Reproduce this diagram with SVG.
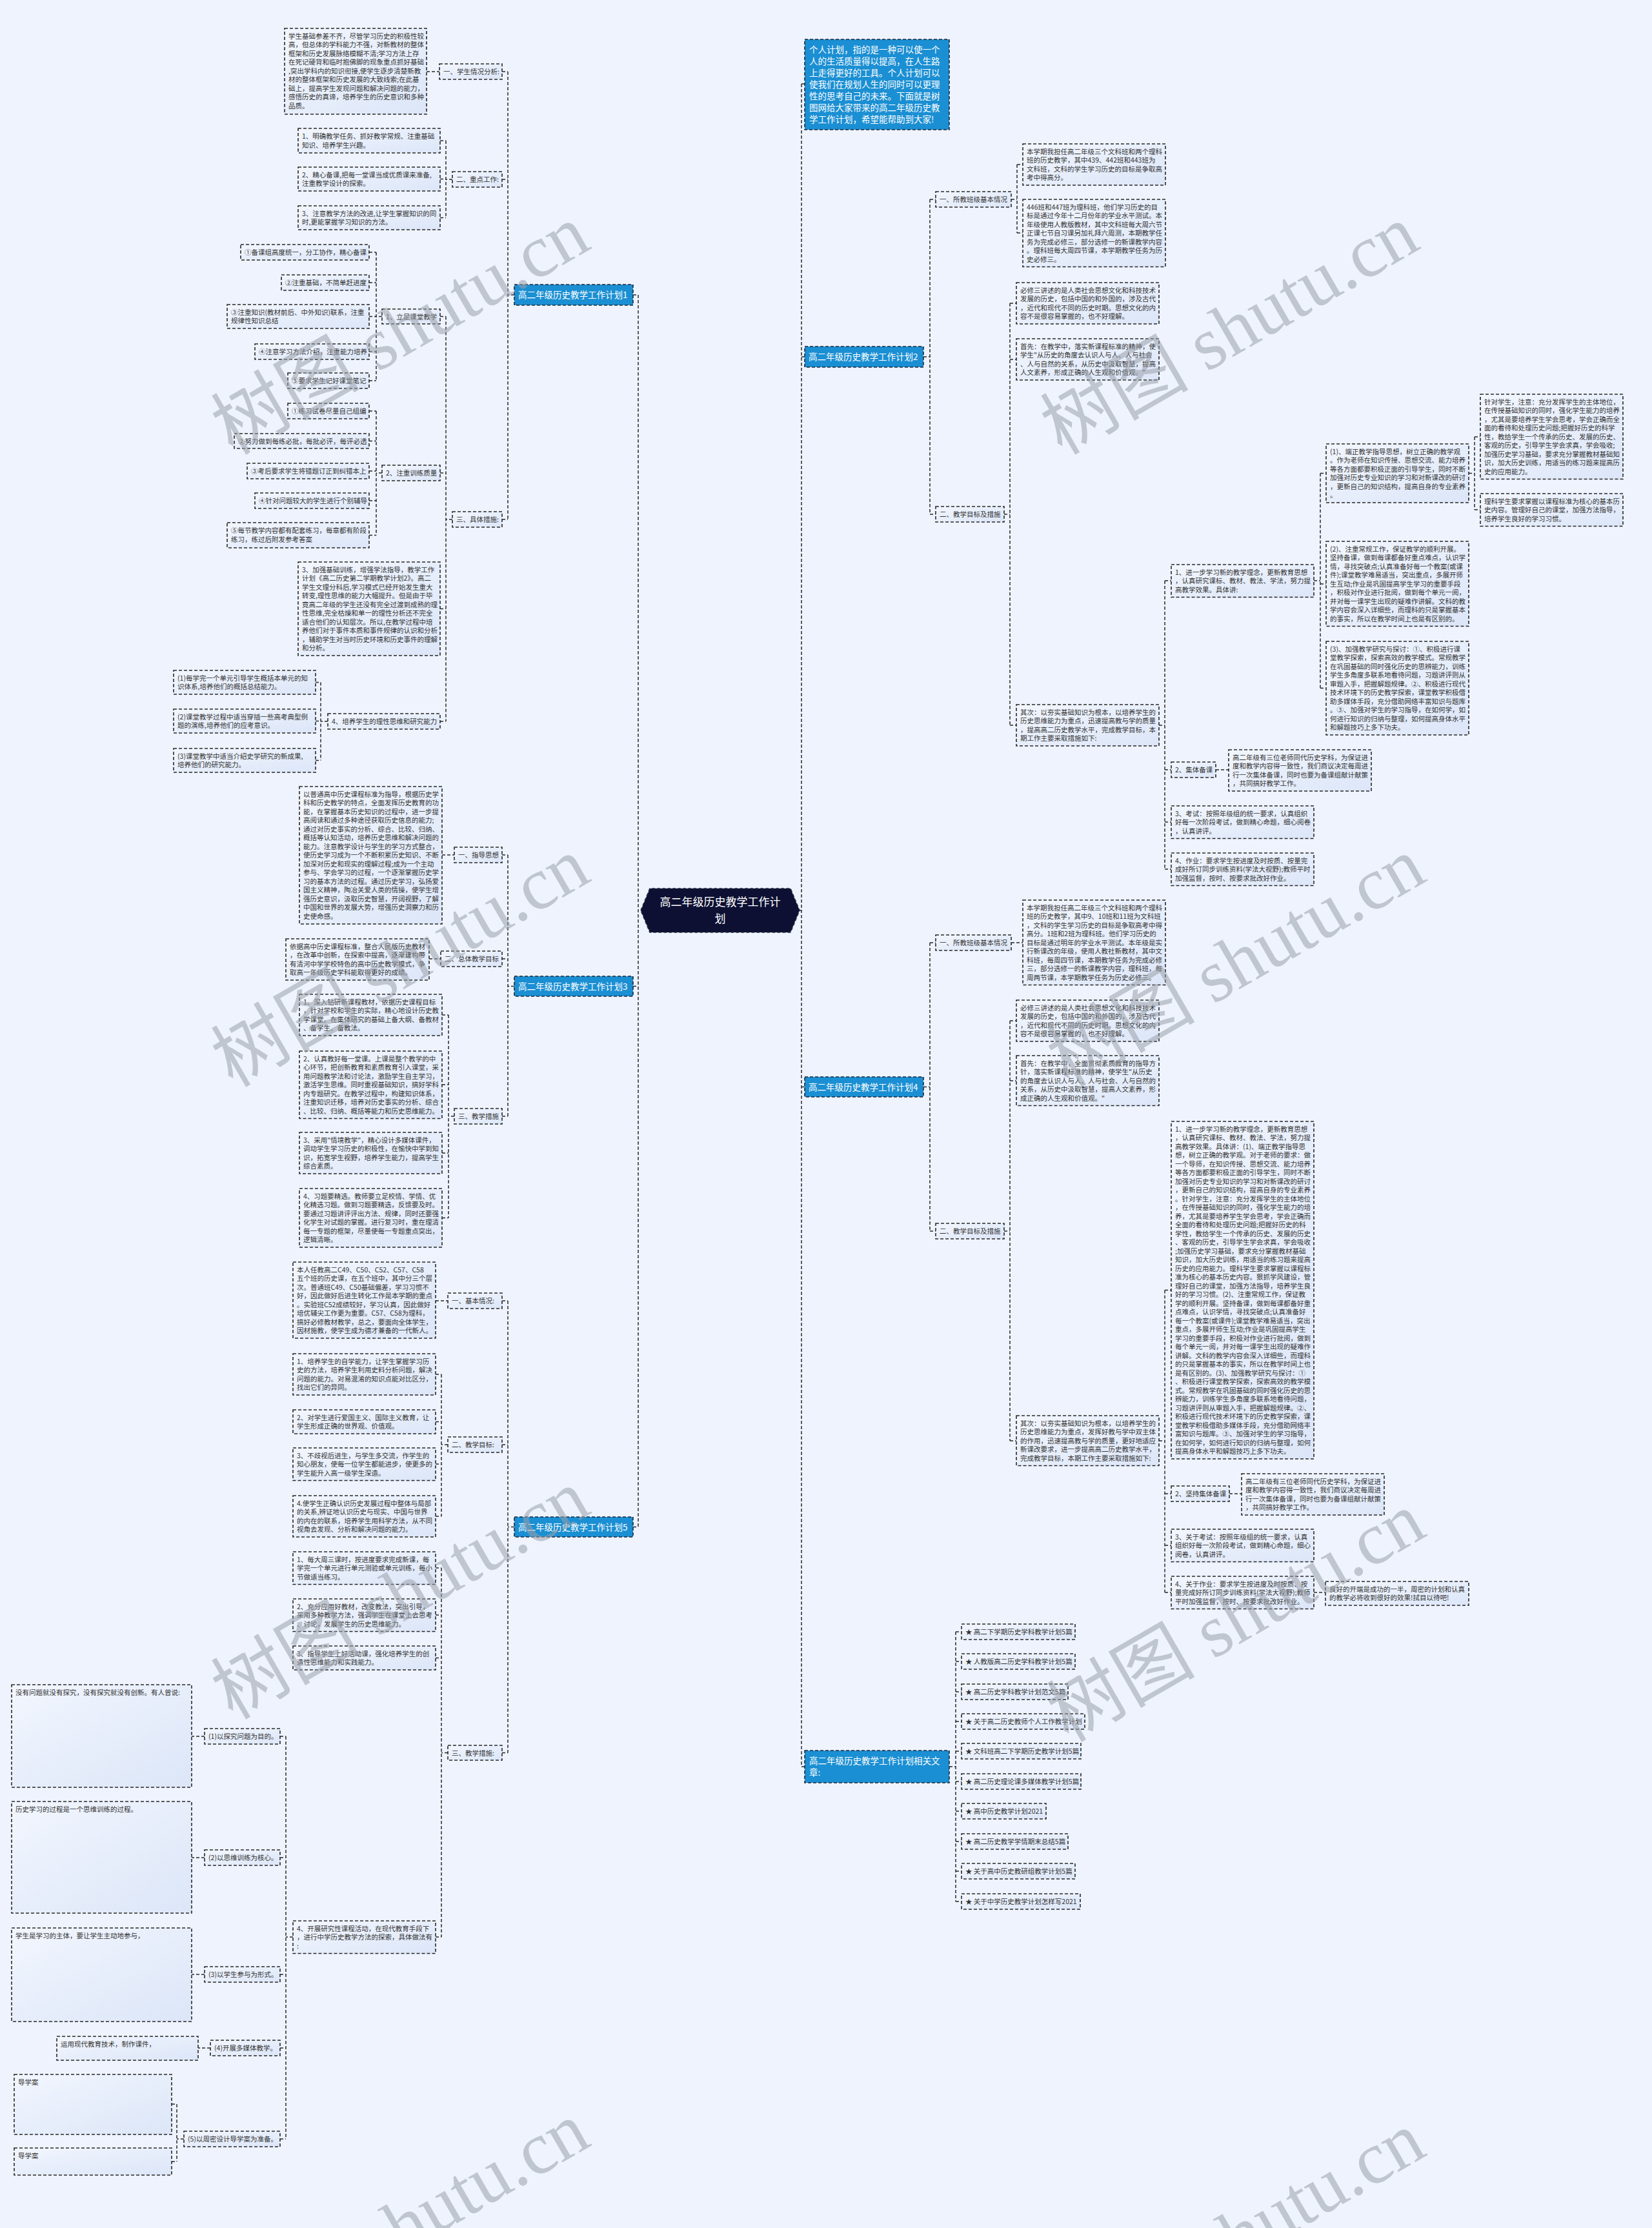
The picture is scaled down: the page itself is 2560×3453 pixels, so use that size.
<svg xmlns="http://www.w3.org/2000/svg" width="2560" height="3453" viewBox="0 0 2560 3453">
<defs>
<linearGradient id="g" x1="0" y1="0" x2="1" y2="1"><stop offset="0" stop-color="#F2F6FE"/><stop offset="1" stop-color="#DCE6F8"/></linearGradient>
<style>
.n{fill:url(#g);stroke:#2a2a2a;stroke-width:1.6;stroke-dasharray:5 3}
.b{fill:#1B8FD3;stroke:#1f2a3a;stroke-width:1.6;stroke-dasharray:5 3}
.t{font-family:"Noto Sans CJK SC","Noto Sans",sans-serif;font-size:10.5px;fill:#333}
.w{font-family:"Noto Sans CJK SC","Noto Sans",sans-serif;font-size:13.5px;fill:#fff}
.c{fill:none;stroke:#2a2a2a;stroke-width:1.5;stroke-dasharray:5 3}
.wm{font-family:"Liberation Serif","Noto Sans CJK SC",serif;font-size:115px;fill:#9aa0aa;fill-opacity:0.55}
</style>
</defs>
<rect x="0" y="0" width="2560" height="3453" fill="#EEF3FE"/>

<g id="connectors">
<path class="c" d="M989 457V2366.5M981 457H989M981 1528.5H989M981 2366.5H989"/>
<path class="c" d="M797 457H787M787 111V805M778 111H787M778 278H787M778 805H787M661 111H681"/>
<path class="c" d="M701 278H691M691 218V337.5M682 218H691M682 277.5H691M682 337.5H691"/>
<path class="c" d="M701 805H691M691 490.5V1118M682 490.5H691M682 733H691M682 943.5H691M682 1118H691"/>
<path class="c" d="M592 490.5H583M583 391V590M572 391H583M572 438H583M572 490.5H583M572 545H583M572 590H583"/>
<path class="c" d="M592 733H583M583 637V829.5M572 637H583M572 683.5H583M572 730H583M572 776H583M572 829.5H583"/>
<path class="c" d="M508 1118H497M497 1057.5V1178.5M489 1057.5H497M489 1117.5H497M489 1178.5H497"/>
<path class="c" d="M797 1528.5H787M787 1325V1730M778 1325H787M778 1486H787M778 1730H787M685 1325H704M665 1486H683"/>
<path class="c" d="M704 1730H695M695 1573V1887.5M685 1573H695M685 1681H695M685 1787H695M685 1887.5H695"/>
<path class="c" d="M797 2366.5H787M787 2016V2716.5M778 2016H787M778 2239H787M778 2716.5H787M675 2016H694"/>
<path class="c" d="M694 2239H684M684 2130V2350M675 2130H684M675 2203.5H684M675 2269H684M675 2350H684"/>
<path class="c" d="M694 2716.5H684M684 2430V3002M675 2430H684M675 2503H684M675 2569.5H684M675 3002H684"/>
<path class="c" d="M454 3002H443M443 2691V3315M434 2691H443M434 2879H443M434 3060H443M434 3174H443M434 3315H443"/>
<path class="c" d="M317 2691H297M317 2879H297M317 3060H297M326 3174H307M285 3315H274M274 3261V3350M266 3261H274M266 3350H274"/>
<path class="c" d="M1242 130V2738M1242 130H1247M1242 553H1247M1242 1684.5H1247M1242 2738H1247M1239 1411H1242"/>
<path class="c" d="M1431 553H1441M1441 309V797M1441 309H1450M1441 797H1450M1567 309H1576M1576 255V361M1576 255H1585M1576 361H1585"/>
<path class="c" d="M1556 797H1565M1565 470V1124M1565 470H1575M1565 557H1575M1565 1124H1575"/>
<path class="c" d="M1796 1124H1805M1805 900V1347M1805 900H1815M1805 1193H1815M1805 1274H1815M1805 1347H1815M1884 1193H1904"/>
<path class="c" d="M2036 900H2046M2046 733.5V1066.5M2046 733.5H2055M2046 905H2055M2046 1066.5H2055M2276 733.5H2285M2285 677V790M2285 677H2294M2285 790H2294"/>
<path class="c" d="M1431 1684.5H1441M1441 1461V1908M1441 1461H1450M1441 1908H1450M1567 1461H1585"/>
<path class="c" d="M1556 1908H1565M1565 1582V2233M1565 1582H1575M1565 1675H1575M1565 2233H1575"/>
<path class="c" d="M1796 2233H1805M1805 1999.5V2468M1805 1999.5H1815M1805 2315H1815M1805 2395H1815M1805 2468H1815M1905 2315H1924M2036 2468H2054"/>
<path class="c" d="M1471 2738H1481M1481 2529V2947M1481 2529H1490M1481 2575H1490M1481 2622H1490M1481 2668H1490M1481 2714H1490M1481 2761H1490M1481 2807H1490M1481 2854H1490M1481 2900H1490M1481 2947H1490"/>
</g>

<g id="center">
<polygon points="993,1411 1007,1377 1225,1377 1239,1411 1225,1445 1007,1445" fill="#0D1033" stroke="#1f2a3a" stroke-width="1.6" stroke-dasharray="5 3"/>
<text x="1116" y="1404" text-anchor="middle" style="font-family:'Noto Sans CJK SC',sans-serif;font-size:17px;fill:#fff">高二年级历史教学工作计</text>
<text x="1116" y="1430" text-anchor="middle" style="font-family:'Noto Sans CJK SC',sans-serif;font-size:17px;fill:#fff">划</text>
</g>

<!-- PLAN 1 -->
<g id="plan1"><rect class="b" x="797" y="441" width="184" height="32"/><text class="w" x="803" y="462">高二年级历史教学工作计划1</text></g>
<g id="p1a"><rect class="n" x="681" y="99" width="97" height="24"/><text class="t" x="687" y="115">一、学生情况分析:</text></g>
<g id="p1a1"><rect class="n" x="441" y="44" width="220" height="133"/><text class="t" y="59.5"><tspan x="447">学生基础参差不齐，尽管学习历史的积极性较</tspan><tspan x="447" dy="13.5">高，但总体的学科能力不强，对新教材的整体</tspan><tspan x="447" dy="13.5">框架和历史发展脉络模糊不清;学习方法上存</tspan><tspan x="447" dy="13.5">在死记硬背和临时抱佛脚的现象重点抓好基础</tspan><tspan x="447" dy="13.5">,突出学科内的知识衔接,使学生逐步清楚新教</tspan><tspan x="447" dy="13.5">材的整体框架和历史发展的大致线索;在此基</tspan><tspan x="447" dy="13.5">础上，提高学生发现问题和解决问题的能力，</tspan><tspan x="447" dy="13.5">感悟历史的真谛，培养学生的历史意识和多种</tspan><tspan x="447" dy="13.5">品质。</tspan></text></g>
<g id="p1b"><rect class="n" x="701" y="266" width="77" height="24"/><text class="t" x="707" y="282">二、重点工作:</text></g>
<g id="p1b1"><rect class="n" x="462" y="199" width="220" height="38"/><text class="t" y="215"><tspan x="468">1、明确教学任务、抓好教学常规、注重基础</tspan><tspan x="468" dy="13.5">知识、培养学生兴趣。</tspan></text></g>
<g id="p1b2"><rect class="n" x="462" y="259" width="220" height="37"/><text class="t" y="274.5"><tspan x="468">2、精心备课,把每一堂课当成优质课来准备,</tspan><tspan x="468" dy="13.5">注重教学设计的探索。</tspan></text></g>
<g id="p1b3"><rect class="n" x="462" y="319" width="220" height="37"/><text class="t" y="334.5"><tspan x="468">3、注意教学方法的改进,让学生掌握知识的同</tspan><tspan x="468" dy="13.5">时,更能掌握学习知识的方法。</tspan></text></g>
<g id="p1c"><rect class="n" x="701" y="793" width="77" height="24"/><text class="t" x="707" y="809">三、具体措施:</text></g>
<g id="p1c1"><rect class="n" x="592" y="479" width="90" height="23"/><text class="t" x="598" y="494.5">1、立足课堂教学</text></g>
<g id="p1c1a"><rect class="n" x="373" y="379" width="199" height="24"/><text class="t" x="379" y="395">①备课组高度统一，分工协作，精心备课</text></g>
<g id="p1c1b"><rect class="n" x="436" y="426" width="136" height="24"/><text class="t" x="442" y="442">②注重基础，不简单赶进度</text></g>
<g id="p1c1c"><rect class="n" x="352" y="472" width="220" height="37"/><text class="t" y="487.5"><tspan x="358">③注重知识(教材前后、中外知识)联系，注重</tspan><tspan x="358" dy="13.5">规律性知识总结</tspan></text></g>
<g id="p1c1d"><rect class="n" x="395" y="533" width="177" height="24"/><text class="t" x="401" y="549">④注意学习方法介绍，注重能力培养</text></g>
<g id="p1c1e"><rect class="n" x="446" y="578" width="126" height="24"/><text class="t" x="452" y="594">⑤要求学生记好课堂笔记</text></g>
<g id="p1c2"><rect class="n" x="592" y="721" width="90" height="24"/><text class="t" x="598" y="737">2、注重训练质量</text></g>
<g id="p1c2a"><rect class="n" x="446" y="625" width="126" height="24"/><text class="t" x="452" y="641">①练习试卷尽量自己组编</text></g>
<g id="p1c2b"><rect class="n" x="363" y="672" width="209" height="23"/><text class="t" x="369" y="687.5">②努力做到每练必批，每批必评，每评必透</text></g>
<g id="p1c2c"><rect class="n" x="383" y="718" width="189" height="24"/><text class="t" x="389" y="734">③考后要求学生将错题订正到纠错本上</text></g>
<g id="p1c2d"><rect class="n" x="395" y="764" width="177" height="24"/><text class="t" x="401" y="780">④针对问题较大的学生进行个别辅导</text></g>
<g id="p1c2e"><rect class="n" x="352" y="810" width="220" height="39"/><text class="t" y="826"><tspan x="358">⑤每节教学内容都有配套练习，每章都有阶段</tspan><tspan x="358" dy="13.5">练习，练过后附发参考答案</tspan></text></g>
<g id="p1c3"><rect class="n" x="462" y="871" width="220" height="145"/><text class="t" y="886.5"><tspan x="468">3、加强基础训练，增强学法指导，教学工作</tspan><tspan x="468" dy="13.5">计划《高二历史第二学期教学计划2》。高二</tspan><tspan x="468" dy="13.5">学生文理分科后,学习模式已经开始发生重大</tspan><tspan x="468" dy="13.5">转变,理性思维的能力大幅提升。但是由于毕</tspan><tspan x="468" dy="13.5">竟高二年级的学生还没有完全过渡到成熟的理</tspan><tspan x="468" dy="13.5">性思维,完全枯燥和单一的理性分析还不完全</tspan><tspan x="468" dy="13.5">适合他们的认知层次。所以,在教学过程中培</tspan><tspan x="468" dy="13.5">养他们对于事件本质和事件规律的认识和分析</tspan><tspan x="468" dy="13.5">，辅助学生对当时历史环境和历史事件的理解</tspan><tspan x="468" dy="13.5">和分析。</tspan></text></g>
<g id="p1c4"><rect class="n" x="508" y="1106" width="174" height="24"/><text class="t" x="514" y="1122">4、培养学生的理性思维和研究能力</text></g>
<g id="p1c4a"><rect class="n" x="269" y="1039" width="220" height="37"/><text class="t" y="1054.5"><tspan x="275">(1)每学完一个单元引导学生概括本单元的知</tspan><tspan x="275" dy="13.5">识体系,培养他们的概括总结能力。</tspan></text></g>
<g id="p1c4b"><rect class="n" x="269" y="1099" width="220" height="37"/><text class="t" y="1114.5"><tspan x="275">(2)课堂教学过程中适当穿插一些高考典型例</tspan><tspan x="275" dy="13.5">题的演练,培养他们的应考意识。</tspan></text></g>
<g id="p1c4c"><rect class="n" x="269" y="1160" width="220" height="37"/><text class="t" y="1175.5"><tspan x="275">(3)课堂教学中适当介绍史学研究的新成果,</tspan><tspan x="275" dy="13.5">培养他们的研究能力。</tspan></text></g>

<!-- PLAN 3 -->
<g id="plan3"><rect class="b" x="797" y="1513" width="184" height="31"/><text class="w" x="803" y="1533.5">高二年级历史教学工作计划3</text></g>
<g id="p3a"><rect class="n" x="704" y="1313" width="74" height="24"/><text class="t" x="710" y="1329">一、指导思想</text></g>
<g id="p3a1"><rect class="n" x="464" y="1219" width="221" height="213"/><text class="t" y="1234.5"><tspan x="470">以普通高中历史课程标准为指导，根据历史学</tspan><tspan x="470" dy="13.5">科和历史教学的特点，全面发挥历史教育的功</tspan><tspan x="470" dy="13.5">能，在掌握基本历史知识的过程中，进一步提</tspan><tspan x="470" dy="13.5">高阅读和通过多种途径获取历史信息的能力;</tspan><tspan x="470" dy="13.5">通过对历史事实的分析、综合、比较、归纳、</tspan><tspan x="470" dy="13.5">概括等认知活动，培养历史思维和解决问题的</tspan><tspan x="470" dy="13.5">能力。注意教学设计与学生的学习方式整合，</tspan><tspan x="470" dy="13.5">使历史学习成为一个不断积累历史知识、不断</tspan><tspan x="470" dy="13.5">加深对历史和现实的理解过程;成为一个主动</tspan><tspan x="470" dy="13.5">参与、学会学习的过程，一个逐渐掌握历史学</tspan><tspan x="470" dy="13.5">习的基本方法的过程。通过历史学习，弘扬爱</tspan><tspan x="470" dy="13.5">国主义精神，陶冶关爱人类的情操，使学生增</tspan><tspan x="470" dy="13.5">强历史意识，汲取历史智慧，开阔视野，了解</tspan><tspan x="470" dy="13.5">中国和世界的发展大势，增强历史洞察力和历</tspan><tspan x="470" dy="13.5">史使命感。</tspan></text></g>
<g id="p3b"><rect class="n" x="683" y="1474" width="95" height="24"/><text class="t" x="689" y="1490">二、总体教学目标</text></g>
<g id="p3b1"><rect class="n" x="443" y="1455" width="222" height="64"/><text class="t" y="1470.5"><tspan x="449">依据高中历史课程标准，整合人民版历史教材</tspan><tspan x="449" dy="13.5">，在改革中创新，在探索中提高，逐渐建构带</tspan><tspan x="449" dy="13.5">有清河中学学校特色的高中历史教学模式，争</tspan><tspan x="449" dy="13.5">取高一年级历史学科能取得更好的成绩。</tspan></text></g>
<g id="p3c"><rect class="n" x="704" y="1718" width="74" height="24"/><text class="t" x="710" y="1734">三、教学措施</text></g>
<g id="p3c1"><rect class="n" x="464" y="1541" width="221" height="64"/><text class="t" y="1556.5"><tspan x="470">1、深入钻研新课程教材，依据历史课程目标</tspan><tspan x="470" dy="13.5">，针对学校和学生的实际，精心地设计历史教</tspan><tspan x="470" dy="13.5">学课堂。在集体研究的基础上备大纲、备教材</tspan><tspan x="470" dy="13.5">、备学生、备教法。</tspan></text></g>
<g id="p3c2"><rect class="n" x="464" y="1629" width="221" height="104.5"/><text class="t" y="1644.5"><tspan x="470">2、认真教好每一堂课。上课是整个教学的中</tspan><tspan x="470" dy="13.5">心环节，把创新教育和素质教育引入课堂，采</tspan><tspan x="470" dy="13.5">用问题教学法和讨论法，激励学生自主学习，</tspan><tspan x="470" dy="13.5">激活学生思维。同时重视基础知识，搞好学科</tspan><tspan x="470" dy="13.5">内专题研究。在教学过程中，构建知识体系，</tspan><tspan x="470" dy="13.5">注重知识迁移，培养对历史事实的分析、综合</tspan><tspan x="470" dy="13.5">、比较、归纳、概括等能力和历史思维能力。</tspan></text></g>
<g id="p3c3"><rect class="n" x="464" y="1755" width="221" height="64"/><text class="t" y="1770.5"><tspan x="470">3、采用"情境教学"，精心设计多媒体课件，</tspan><tspan x="470" dy="13.5">调动学生学习历史的积极性，在愉快中学到知</tspan><tspan x="470" dy="13.5">识，拓宽学生视野，培养学生能力，提高学生</tspan><tspan x="470" dy="13.5">综合素质。</tspan></text></g>
<g id="p3c4"><rect class="n" x="464" y="1842" width="221" height="91"/><text class="t" y="1857.5"><tspan x="470">4、习题要精选。教师要立足校情、学情、优</tspan><tspan x="470" dy="13.5">化精选习题。做到习题要精选，反馈要及时。</tspan><tspan x="470" dy="13.5">要通过习题讲评评出方法、规律，同时还要强</tspan><tspan x="470" dy="13.5">化学生对试题的掌握。进行复习时，重在理清</tspan><tspan x="470" dy="13.5">每一专题的框架，尽量使每一专题重点突出，</tspan><tspan x="470" dy="13.5">逻辑清晰。</tspan></text></g>

<!-- PLAN 5 -->
<g id="plan5"><rect class="b" x="797" y="2351" width="184" height="31"/><text class="w" x="803" y="2371.5">高二年级历史教学工作计划5</text></g>
<g id="p5a"><rect class="n" x="694" y="2004" width="84" height="24"/><text class="t" x="700" y="2020">一、基本情况:</text></g>
<g id="p5a1"><rect class="n" x="454" y="1956" width="221" height="118"/><text class="t" y="1971.5"><tspan x="460">本人任教高二C49、C50、C52、C57、C58</tspan><tspan x="460" dy="13.5">五个班的历史课，在五个班中，其中分三个层</tspan><tspan x="460" dy="13.5">次。普通班C49、C50基础偏差，学习习惯不</tspan><tspan x="460" dy="13.5">好，因此做好后进生转化工作是本学期的重点</tspan><tspan x="460" dy="13.5">。实验班C52成绩较好，学习认真，因此做好</tspan><tspan x="460" dy="13.5">培优辅尖工作更为重要。C57、C58为理科，</tspan><tspan x="460" dy="13.5">搞好必修教材教学，总之，要面向全体学生，</tspan><tspan x="460" dy="13.5">因材施教，使学生成为德才兼备的一代新人。</tspan></text></g>
<g id="p5b"><rect class="n" x="694" y="2227" width="84" height="24"/><text class="t" x="700" y="2243">二、教学目标:</text></g>
<g id="p5b1"><rect class="n" x="454" y="2098" width="221" height="64"/><text class="t" y="2113.5"><tspan x="460">1、培养学生的自学能力，让学生掌握学习历</tspan><tspan x="460" dy="13.5">史的方法，培养学生利用史料分析问题，解决</tspan><tspan x="460" dy="13.5">问题的能力。对易混淆的知识点能对比区分，</tspan><tspan x="460" dy="13.5">找出它们的异同。</tspan></text></g>
<g id="p5b2"><rect class="n" x="454" y="2185" width="221" height="37"/><text class="t" y="2200.5"><tspan x="460">2、对学生进行爱国主义、国际主义教育，让</tspan><tspan x="460" dy="13.5">学生形成正确的世界观、价值观。</tspan></text></g>
<g id="p5b3"><rect class="n" x="454" y="2244" width="221" height="50.5"/><text class="t" y="2259.5"><tspan x="460">3、不歧视后进生，与学生多交流，作学生的</tspan><tspan x="460" dy="13.5">知心朋友，使每一位学生都能进步，使更多的</tspan><tspan x="460" dy="13.5">学生能升入高一级学生深造。</tspan></text></g>
<g id="p5b4"><rect class="n" x="454" y="2318" width="221" height="64"/><text class="t" y="2333.5"><tspan x="460">4.使学生正确认识历史发展过程中整体与局部</tspan><tspan x="460" dy="13.5">的关系,辨证地认识历史与现实、中国与世界</tspan><tspan x="460" dy="13.5">的内在的联系，培养学生用科学方法，从不同</tspan><tspan x="460" dy="13.5">视角去发现、分析和解决问题的能力。</tspan></text></g>
<g id="p5c"><rect class="n" x="694" y="2705" width="84" height="23"/><text class="t" x="700" y="2720.5">三、教学措施:</text></g>
<g id="p5c1"><rect class="n" x="454" y="2405" width="221" height="50.5"/><text class="t" y="2420.5"><tspan x="460">1、每大周三课时，按进度要求完成新课，每</tspan><tspan x="460" dy="13.5">学完一个单元进行单元测验或单元训练，每小</tspan><tspan x="460" dy="13.5">节做适当练习。</tspan></text></g>
<g id="p5c2"><rect class="n" x="454" y="2478" width="221" height="50.5"/><text class="t" y="2493.5"><tspan x="460">2、充分应用好教材，改变教法，突出引导，</tspan><tspan x="460" dy="13.5">采用多种教学方法，强调学生在课堂上去思考</tspan><tspan x="460" dy="13.5">、讨论，发展学生的历史思维能力。</tspan></text></g>
<g id="p5c3"><rect class="n" x="454" y="2551" width="221" height="37"/><text class="t" y="2566.5"><tspan x="460">3、指导学生上好活动课，强化培养学生的创</tspan><tspan x="460" dy="13.5">造性思维能力和实践能力。</tspan></text></g>
<g id="p5c4"><rect class="n" x="454" y="2977" width="221" height="50.5"/><text class="t" y="2992.5"><tspan x="460">4、开展研究性课程活动，在现代教育手段下</tspan><tspan x="460" dy="13.5">，进行中学历史教学方法的探索，具体做法有</tspan><tspan x="460" dy="13.5">:</tspan></text></g>
<g id="p5d1"><rect class="n" x="317" y="2679" width="117" height="24"/><text class="t" x="323" y="2695">(1)以探究问题为目的。</text></g>
<g id="p5d2"><rect class="n" x="317" y="2867" width="117" height="24"/><text class="t" x="323" y="2883">(2)以思维训练为核心。</text></g>
<g id="p5d3"><rect class="n" x="317" y="3048" width="117" height="24"/><text class="t" x="323" y="3064">(3)以学生参与为形式。</text></g>
<g id="p5d4"><rect class="n" x="326" y="3162" width="108" height="24"/><text class="t" x="332" y="3178">(4)开展多媒体教学。</text></g>
<g id="p5d5"><rect class="n" x="285" y="3303" width="149" height="24"/><text class="t" x="291" y="3319">(5)以周密设计导学案为准备。</text></g>
<g id="p5e1"><rect class="n" x="18" y="2611" width="279" height="159"/><text class="t" y="2626.5"><tspan x="24">没有问题就没有探究，没有探究就没有创新。有人曾说:</tspan></text></g>
<g id="p5e2"><rect class="n" x="18" y="2792" width="279" height="173"/><text class="t" y="2807.5"><tspan x="24">历史学习的过程是一个思维训练的过程。</tspan></text></g>
<g id="p5e3"><rect class="n" x="18" y="2988" width="279" height="145"/><text class="t" y="3003.5"><tspan x="24">学生是学习的主体，要让学生主动地参与，</tspan></text></g>
<g id="p5e4"><rect class="n" x="88" y="3156" width="219" height="37"/><text class="t" y="3171.5"><tspan x="94">运用现代教育技术，制作课件，</tspan></text></g>
<g id="p5e5"><rect class="n" x="22" y="3215" width="244" height="93"/><text class="t" y="3230.5"><tspan x="28">导学案</tspan></text></g>
<g id="p5e6"><rect class="n" x="22" y="3329" width="244" height="42"/><text class="t" y="3344.5"><tspan x="28">导学案</tspan></text></g>

<!-- RIGHT SIDE -->
<g id="intro"><rect class="b" x="1247" y="61" width="224" height="140"/><text class="w" y="82"><tspan x="1254">个人计划，指的是一种可以使一个</tspan><tspan x="1254" dy="18">人的生活质量得以提高，在人生路</tspan><tspan x="1254" dy="18">上走得更好的工具。个人计划可以</tspan><tspan x="1254" dy="18">使我们在规划人生的同时可以更理</tspan><tspan x="1254" dy="18">性的思考自己的未来。下面就是树</tspan><tspan x="1254" dy="18">图网给大家带来的高二年级历史教</tspan><tspan x="1254" dy="18">学工作计划，希望能帮助到大家!</tspan></text></g>

<!-- PLAN 2 -->
<g id="plan2"><rect class="b" x="1247" y="537" width="184" height="32"/><text class="w" x="1253" y="558">高二年级历史教学工作计划2</text></g>
<g id="p2a"><rect class="n" x="1450" y="297" width="117" height="24"/><text class="t" x="1456" y="313">一、所教班级基本情况</text></g>
<g id="p2a1"><rect class="n" x="1585" y="223" width="221" height="64"/><text class="t" y="238.5"><tspan x="1591">本学期我担任高二年级三个文科班和两个理科</tspan><tspan x="1591" dy="13.5">班的历史教学，其中439、442班和443班为</tspan><tspan x="1591" dy="13.5">文科班，文科的学生学习历史的目标是争取高</tspan><tspan x="1591" dy="13.5">考中得高分。</tspan></text></g>
<g id="p2a2"><rect class="n" x="1585" y="309" width="221" height="104.5"/><text class="t" y="324.5"><tspan x="1591">446班和447班为理科班，他们学习历史的目</tspan><tspan x="1591" dy="13.5">标是通过今年十二月份年的学业水平测试。本</tspan><tspan x="1591" dy="13.5">年级使用人教版教材，其中文科班每大周六节</tspan><tspan x="1591" dy="13.5">正课七节自习课另加礼拜六周测，本期教学任</tspan><tspan x="1591" dy="13.5">务为完成必修三，部分选修一的新课教学内容</tspan><tspan x="1591" dy="13.5">。理科班每大周四节课，本学期教学任务为历</tspan><tspan x="1591" dy="13.5">史必修三。</tspan></text></g>
<g id="p2b"><rect class="n" x="1450" y="785" width="106" height="24"/><text class="t" x="1456" y="801">二、教学目标及措施</text></g>
<g id="p2b1"><rect class="n" x="1575" y="438" width="221" height="64"/><text class="t" y="453.5"><tspan x="1581">必修三讲述的是人类社会思想文化和科技技术</tspan><tspan x="1581" dy="13.5">发展的历史，包括中国的和外国的，涉及古代</tspan><tspan x="1581" dy="13.5">，近代和现代不同的历史时期。思想文化的内</tspan><tspan x="1581" dy="13.5">容不是很容易掌握的，也不好理解。</tspan></text></g>
<g id="p2b2"><rect class="n" x="1575" y="525" width="221" height="64"/><text class="t" y="540.5"><tspan x="1581">首先：在教学中，落实新课程标准的精神，使</tspan><tspan x="1581" dy="13.5">学生"从历史的角度去认识人与人、人与社会</tspan><tspan x="1581" dy="13.5">、人与自然的关系，从历史中汲取智慧，提高</tspan><tspan x="1581" dy="13.5">人文素养，形成正确的人生观和价值观。"</tspan></text></g>
<g id="p2b3"><rect class="n" x="1575" y="1092" width="221" height="64"/><text class="t" y="1107.5"><tspan x="1581">其次：以夯实基础知识为根本，以培养学生的</tspan><tspan x="1581" dy="13.5">历史思维能力为重点，迅速提高教与学的质量</tspan><tspan x="1581" dy="13.5">，提高高二历史教学水平，完成教学目标，本</tspan><tspan x="1581" dy="13.5">期工作主要采取措施如下:</tspan></text></g>
<g id="p2c1"><rect class="n" x="1815" y="875" width="221" height="50.5"/><text class="t" y="890.5"><tspan x="1821">1、进一步学习新的教学理念，更新教育思想</tspan><tspan x="1821" dy="13.5">，认真研究课标、教材、教法、学法，努力提</tspan><tspan x="1821" dy="13.5">高教学效果。具体讲:</tspan></text></g>
<g id="p2c1a"><rect class="n" x="2055" y="688" width="221" height="91"/><text class="t" y="703.5"><tspan x="2061">(1)、端正教学指导思想，树立正确的教学观</tspan><tspan x="2061" dy="13.5">。作为老师在知识传授、思想交流、能力培养</tspan><tspan x="2061" dy="13.5">等各方面都要积极正面的引导学生，同时不断</tspan><tspan x="2061" dy="13.5">加强对历史专业知识的学习和对新课改的研讨</tspan><tspan x="2061" dy="13.5">，更新自己的知识结构，提高自身的专业素养</tspan><tspan x="2061" dy="13.5">。</tspan></text></g>
<g id="p2c1a1"><rect class="n" x="2294" y="611" width="221" height="131.5"/><text class="t" y="626.5"><tspan x="2300">针对学生，注意：充分发挥学生的主体地位，</tspan><tspan x="2300" dy="13.5">在传授基础知识的同时，强化学生能力的培养</tspan><tspan x="2300" dy="13.5">，尤其是要培养学生学会思考，学会正确而全</tspan><tspan x="2300" dy="13.5">面的看待和处理历史问题;把握好历史的科学</tspan><tspan x="2300" dy="13.5">性，教给学生一个传承的历史、发展的历史、</tspan><tspan x="2300" dy="13.5">客观的历史，引导学生学会求真，学会吸收;</tspan><tspan x="2300" dy="13.5">加强历史学习基础，要求充分掌握教材基础知</tspan><tspan x="2300" dy="13.5">识，加大历史训练，用适当的练习题来提高历</tspan><tspan x="2300" dy="13.5">史的应用能力。</tspan></text></g>
<g id="p2c1a2"><rect class="n" x="2294" y="765" width="221" height="50.5"/><text class="t" y="780.5"><tspan x="2300">理科学生要求掌握以课程标准为核心的基本历</tspan><tspan x="2300" dy="13.5">史内容。管理好自己的课堂，加强方法指导，</tspan><tspan x="2300" dy="13.5">培养学生良好的学习习惯。</tspan></text></g>
<g id="p2c1b"><rect class="n" x="2055" y="839" width="221" height="131.5"/><text class="t" y="854.5"><tspan x="2061">(2)、注重常规工作，保证教学的顺利开展。</tspan><tspan x="2061" dy="13.5">坚持备课，做到每课都备好重点难点，认识学</tspan><tspan x="2061" dy="13.5">情，寻找突破点;认真准备好每一个教案(或课</tspan><tspan x="2061" dy="13.5">件);课堂教学难易适当，突出重点，多展开师</tspan><tspan x="2061" dy="13.5">生互动;作业是巩固提高学生学习的重要手段</tspan><tspan x="2061" dy="13.5">，积极对作业进行批阅，做到每个单元一阅，</tspan><tspan x="2061" dy="13.5">并对每一课学生出现的疑难作讲解。文科的教</tspan><tspan x="2061" dy="13.5">学内容会深入详细些，而理科的只是掌握基本</tspan><tspan x="2061" dy="13.5">的事实，所以在教学时间上也是有区别的。</tspan></text></g>
<g id="p2c1c"><rect class="n" x="2055" y="994" width="221" height="145"/><text class="t" y="1009.5"><tspan x="2061">(3)、加强教学研究与探讨：①、积极进行课</tspan><tspan x="2061" dy="13.5">堂教学探索，探索高效的教学模式。常规教学</tspan><tspan x="2061" dy="13.5">在巩固基础的同时强化历史的思辨能力，训练</tspan><tspan x="2061" dy="13.5">学生多角度多联系地看待问题，习题讲评则从</tspan><tspan x="2061" dy="13.5">审题入手，把握解题规律。②、积极进行现代</tspan><tspan x="2061" dy="13.5">技术环境下的历史教学探索，课堂教学积极借</tspan><tspan x="2061" dy="13.5">助多媒体手段，充分借助网络丰富知识与题库</tspan><tspan x="2061" dy="13.5">。③、加强对学生的学习指导，在如何学，如</tspan><tspan x="2061" dy="13.5">何进行知识的归纳与整理，如何提高身体水平</tspan><tspan x="2061" dy="13.5">和解题技巧上多下功夫。</tspan></text></g>
<g id="p2c2"><rect class="n" x="1815" y="1181" width="69" height="24"/><text class="t" x="1821" y="1197">2、集体备课</text></g>
<g id="p2c2a"><rect class="n" x="1904" y="1162" width="221" height="64"/><text class="t" y="1177.5"><tspan x="1910">高二年级有三位老师同代历史学科，为保证进</tspan><tspan x="1910" dy="13.5">度和教学内容得一致性，我们商议决定每周进</tspan><tspan x="1910" dy="13.5">行一次集体备课，同时也要为备课组献计献策</tspan><tspan x="1910" dy="13.5">，共同搞好教学工作。</tspan></text></g>
<g id="p2c3"><rect class="n" x="1815" y="1249" width="221" height="50.5"/><text class="t" y="1264.5"><tspan x="1821">3、考试：按照年级组的统一要求，认真组织</tspan><tspan x="1821" dy="13.5">好每一次阶段考试，做到精心命题，细心阅卷</tspan><tspan x="1821" dy="13.5">，认真讲评。</tspan></text></g>
<g id="p2c4"><rect class="n" x="1815" y="1322" width="221" height="50.5"/><text class="t" y="1337.5"><tspan x="1821">4、作业：要求学生按进度及时按质、按量完</tspan><tspan x="1821" dy="13.5">成好所订同步训练资料(学法大视野);教师平时</tspan><tspan x="1821" dy="13.5">加强监督，按时、按要求批改好作业。</tspan></text></g>

<!-- PLAN 4 -->
<g id="plan4"><rect class="b" x="1247" y="1669" width="184" height="31"/><text class="w" x="1253" y="1689.5">高二年级历史教学工作计划4</text></g>
<g id="p4a"><rect class="n" x="1450" y="1449" width="117" height="24"/><text class="t" x="1456" y="1465">一、所教班级基本情况</text></g>
<g id="p4a1"><rect class="n" x="1585" y="1395" width="221" height="131.5"/><text class="t" y="1410.5"><tspan x="1591">本学期我担任高二年级三个文科班和两个理科</tspan><tspan x="1591" dy="13.5">班的历史教学，其中9、10班和11班为文科班</tspan><tspan x="1591" dy="13.5">，文科的学生学习历史的目标是争取高考中得</tspan><tspan x="1591" dy="13.5">高分。1班和2班为理科班。他们学习历史的</tspan><tspan x="1591" dy="13.5">目标是通过明年的学业水平测试。本年级是实</tspan><tspan x="1591" dy="13.5">行新课改的年级，使用人教社新教材，其中文</tspan><tspan x="1591" dy="13.5">科班，每周四节课，本期教学任务为完成必修</tspan><tspan x="1591" dy="13.5">三，部分选修一的新课教学内容，理科班，每</tspan><tspan x="1591" dy="13.5">周两节课，本学期教学任务为历史必修三。</tspan></text></g>
<g id="p4b"><rect class="n" x="1450" y="1896" width="106" height="24"/><text class="t" x="1456" y="1912">二、教学目标及措施</text></g>
<g id="p4b1"><rect class="n" x="1575" y="1550" width="221" height="64"/><text class="t" y="1565.5"><tspan x="1581">必修三讲述的是人类社会思想文化和科技技术</tspan><tspan x="1581" dy="13.5">发展的历史，包括中国的和外国的，涉及古代</tspan><tspan x="1581" dy="13.5">，近代和现代不同的历史时期。思想文化的内</tspan><tspan x="1581" dy="13.5">容不是很容易掌握的，也不好理解。</tspan></text></g>
<g id="p4b2"><rect class="n" x="1575" y="1636" width="221" height="77.5"/><text class="t" y="1651.5"><tspan x="1581">首先：在教学中，全面贯彻素质教育的指导方</tspan><tspan x="1581" dy="13.5">针，落实新课程标准的精神，使学生"从历史</tspan><tspan x="1581" dy="13.5">的角度去认识人与人、人与社会、人与自然的</tspan><tspan x="1581" dy="13.5">关系，从历史中汲取智慧，提高人文素养，形</tspan><tspan x="1581" dy="13.5">成正确的人生观和价值观。"</tspan></text></g>
<g id="p4b3"><rect class="n" x="1575" y="2194" width="221" height="77.5"/><text class="t" y="2209.5"><tspan x="1581">其次：以夯实基础知识为根本，以培养学生的</tspan><tspan x="1581" dy="13.5">历史思维能力为重点，发挥好教与学中双主体</tspan><tspan x="1581" dy="13.5">的作用，迅速提高教与学的质量，更好地适应</tspan><tspan x="1581" dy="13.5">新课改要求，进一步提高高二历史教学水平，</tspan><tspan x="1581" dy="13.5">完成教学目标，本期工作主要采取措施如下:</tspan></text></g>
<g id="p4c1"><rect class="n" x="1815" y="1738" width="221" height="523"/><text class="t" y="1753.5"><tspan x="1821">1、进一步学习新的教学理念，更新教育思想</tspan><tspan x="1821" dy="13.5">，认真研究课标、教材、教法、学法，努力提</tspan><tspan x="1821" dy="13.5">高教学效果。具体讲：(1)、端正教学指导思</tspan><tspan x="1821" dy="13.5">想，树立正确的教学观。对于老师的要求：做</tspan><tspan x="1821" dy="13.5">一个导师，在知识传授、思想交流、能力培养</tspan><tspan x="1821" dy="13.5">等各方面都要积极正面的引导学生，同时不断</tspan><tspan x="1821" dy="13.5">加强对历史专业知识的学习和对新课改的研讨</tspan><tspan x="1821" dy="13.5">，更新自己的知识结构，提高自身的专业素养</tspan><tspan x="1821" dy="13.5">。针对学生，注意：充分发挥学生的主体地位</tspan><tspan x="1821" dy="13.5">，在传授基础知识的同时，强化学生能力的培</tspan><tspan x="1821" dy="13.5">养，尤其是要培养学生学会思考，学会正确而</tspan><tspan x="1821" dy="13.5">全面的看待和处理历史问题;把握好历史的科</tspan><tspan x="1821" dy="13.5">学性，教给学生一个传承的历史、发展的历史</tspan><tspan x="1821" dy="13.5">、客观的历史，引导学生学会求真，学会吸收</tspan><tspan x="1821" dy="13.5">;加强历史学习基础，要求充分掌握教材基础</tspan><tspan x="1821" dy="13.5">知识，加大历史训练，用适当的练习题来提高</tspan><tspan x="1821" dy="13.5">历史的应用能力。理科学生要求掌握以课程标</tspan><tspan x="1821" dy="13.5">准为核心的基本历史内容。狠抓学风建设，管</tspan><tspan x="1821" dy="13.5">理好自己的课堂，加强方法指导，培养学生良</tspan><tspan x="1821" dy="13.5">好的学习习惯。(2)、注重常规工作，保证教</tspan><tspan x="1821" dy="13.5">学的顺利开展。坚持备课，做到每课都备好重</tspan><tspan x="1821" dy="13.5">点难点，认识学情，寻找突破点;认真准备好</tspan><tspan x="1821" dy="13.5">每一个教案(或课件);课堂教学难易适当，突出</tspan><tspan x="1821" dy="13.5">重点，多展开师生互动;作业是巩固提高学生</tspan><tspan x="1821" dy="13.5">学习的重要手段，积极对作业进行批阅，做到</tspan><tspan x="1821" dy="13.5">每个单元一阅，并对每一课学生出现的疑难作</tspan><tspan x="1821" dy="13.5">讲解。文科的教学内容会深入详细些，而理科</tspan><tspan x="1821" dy="13.5">的只是掌握基本的事实，所以在教学时间上也</tspan><tspan x="1821" dy="13.5">是有区别的。(3)、加强教学研究与探讨：①</tspan><tspan x="1821" dy="13.5">、积极进行课堂教学探索，探索高效的教学模</tspan><tspan x="1821" dy="13.5">式。常规教学在巩固基础的同时强化历史的思</tspan><tspan x="1821" dy="13.5">辨能力，训练学生多角度多联系地看待问题，</tspan><tspan x="1821" dy="13.5">习题讲评则从审题入手，把握解题规律。②、</tspan><tspan x="1821" dy="13.5">积极进行现代技术环境下的历史教学探索，课</tspan><tspan x="1821" dy="13.5">堂教学积极借助多媒体手段，充分借助网络丰</tspan><tspan x="1821" dy="13.5">富知识与题库。③、加强对学生的学习指导，</tspan><tspan x="1821" dy="13.5">在如何学，如何进行知识的归纳与整理，如何</tspan><tspan x="1821" dy="13.5">提高身体水平和解题技巧上多下功夫。</tspan></text></g>
<g id="p4c2"><rect class="n" x="1815" y="2303" width="90" height="24"/><text class="t" x="1821" y="2319">2、坚持集体备课</text></g>
<g id="p4c2a"><rect class="n" x="1924" y="2284" width="221" height="64"/><text class="t" y="2299.5"><tspan x="1930">高二年级有三位老师同代历史学科，为保证进</tspan><tspan x="1930" dy="13.5">度和教学内容得一致性，我们商议决定每周进</tspan><tspan x="1930" dy="13.5">行一次集体备课，同时也要为备课组献计献策</tspan><tspan x="1930" dy="13.5">，共同搞好教学工作。</tspan></text></g>
<g id="p4c3"><rect class="n" x="1815" y="2370" width="221" height="50.5"/><text class="t" y="2385.5"><tspan x="1821">3、关于考试：按照年级组的统一要求，认真</tspan><tspan x="1821" dy="13.5">组织好每一次阶段考试，做到精心命题，细心</tspan><tspan x="1821" dy="13.5">阅卷，认真讲评。</tspan></text></g>
<g id="p4c4"><rect class="n" x="1815" y="2443" width="221" height="50.5"/><text class="t" y="2458.5"><tspan x="1821">4、关于作业：要求学生按进度及时按质、按</tspan><tspan x="1821" dy="13.5">量完成好所订同步训练资料(学法大视野);教师</tspan><tspan x="1821" dy="13.5">平时加强监督，按时、按要求批改好作业。</tspan></text></g>
<g id="p4c4a"><rect class="n" x="2054" y="2451" width="222" height="37"/><text class="t" y="2466.5"><tspan x="2060">良好的开端是成功的一半，周密的计划和认真</tspan><tspan x="2060" dy="13.5">的教学必将收到很好的效果!拭目以待吧!</tspan></text></g>

<!-- RELATED -->
<g id="related"><rect class="b" x="1247" y="2713" width="224" height="50"/><text class="w" y="2734"><tspan x="1254">高二年级历史教学工作计划相关文</tspan><tspan x="1254" dy="18">章:</tspan></text></g>
<g id="r1"><rect class="n" x="1490" y="2517" width="176" height="24"/><text class="t" x="1496" y="2533">★ 高二下学期历史学科教学计划5篇</text></g>
<g id="r2"><rect class="n" x="1490" y="2563" width="176" height="24"/><text class="t" x="1496" y="2579">★ 人教版高二历史学科教学计划5篇</text></g>
<g id="r3"><rect class="n" x="1490" y="2610" width="165" height="24"/><text class="t" x="1496" y="2626">★ 高二历史学科教学计划范文5篇</text></g>
<g id="r4"><rect class="n" x="1490" y="2656" width="191" height="24"/><text class="t" x="1496" y="2672">★ 关于高二历史教师个人工作教学计划</text></g>
<g id="r5"><rect class="n" x="1490" y="2702" width="185" height="24"/><text class="t" x="1496" y="2718">★ 文科班高二下学期历史教学计划5篇</text></g>
<g id="r6"><rect class="n" x="1490" y="2749" width="185" height="24"/><text class="t" x="1496" y="2765">★ 高二历史理论课多媒体教学计划5篇</text></g>
<g id="r7"><rect class="n" x="1490" y="2795" width="131" height="24"/><text class="t" x="1496" y="2811">★ 高中历史教学计划2021</text></g>
<g id="r8"><rect class="n" x="1490" y="2842" width="165" height="24"/><text class="t" x="1496" y="2858">★ 高二历史教学学情期末总结5篇</text></g>
<g id="r9"><rect class="n" x="1490" y="2888" width="176" height="24"/><text class="t" x="1496" y="2904">★ 关于高中历史教研组教学计划5篇</text></g>
<g id="r10"><rect class="n" x="1490" y="2935" width="184" height="24"/><text class="t" x="1496" y="2951">★ 关于中学历史教学计划怎样写2021</text></g>

<g id="watermarks">
<text class="wm" text-anchor="middle" transform="translate(640 545) rotate(-30)">树图 shutu.cn</text>
<text class="wm" text-anchor="middle" transform="translate(1925 545) rotate(-30)">树图 shutu.cn</text>
<text class="wm" text-anchor="middle" transform="translate(640 1525) rotate(-30)">树图 shutu.cn</text>
<text class="wm" text-anchor="middle" transform="translate(1935 1525) rotate(-30)">树图 shutu.cn</text>
<text class="wm" text-anchor="middle" transform="translate(640 2505) rotate(-30)">树图 shutu.cn</text>
<text class="wm" text-anchor="middle" transform="translate(1935 2540) rotate(-30)">树图 shutu.cn</text>
<text class="wm" text-anchor="middle" transform="translate(640 3485) rotate(-30)">树图 shutu.cn</text>
<text class="wm" text-anchor="middle" transform="translate(1935 3500) rotate(-30)">树图 shutu.cn</text>
</g>
</svg>
